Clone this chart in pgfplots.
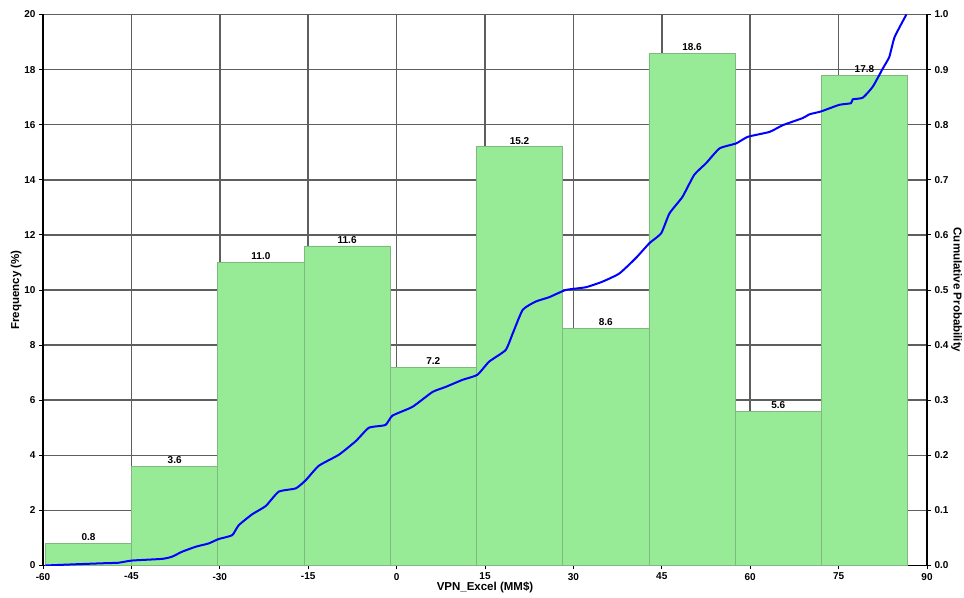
\documentclass[border=0pt]{standalone}
\usepackage{fontspec}
\setmainfont{Liberation Sans}
\usepackage{pgfplots}
\pgfplotsset{compat=1.18}
\definecolor{barfill}{HTML}{97EB97}
\definecolor{baredge}{HTML}{80B880}
\definecolor{gridc}{HTML}{5E5E5E}
\begin{document}
\begin{tikzpicture}
\pgfplotsset{
  every axis/.append style={
    scale only axis, width=884pt, height=551pt,
    xmin=-60, xmax=90,
    /pgf/number format/assume math mode=true,
    tick label style={font=\fontsize{10}{12}\selectfont\bfseries},
    label style={font=\fontsize{11.5}{13}\selectfont\bfseries},
    tick align=outside, tick style={black, line width=0.9pt},
    major tick length=4pt,
  }
}
\begin{axis}[
  axis y line*=left, axis x line*=bottom,
  axis line style={black, line width=1.2pt},
  ymin=0, ymax=20,
  ytick={0,2,...,20},
  xtick={-60,-45,...,90},
  grid=major,
  major grid style={gridc, line width=1.5pt},
  xlabel={VPN\_Excel (MM\$)},
  ylabel={Frequency (\%)},
  xlabel style={yshift=5pt},
  ylabel style={yshift=-4pt},
  ybar, bar width=14.63,
  nodes near coords,
  every node near coord/.append style={font=\fontsize{10}{12}\selectfont\bfseries, /pgf/number format/.cd, fixed, fixed zerofill, precision=1, /tikz/.cd, yshift=-1pt},
]
\addplot[fill=barfill, draw=baredge, line width=0.6pt] coordinates {
(-52.285,0.8) (-37.655,3.6) (-23.025,11.0) (-8.395,11.6) (6.235,7.2)
(20.865,15.2) (35.495,8.6) (50.125,18.6) (64.755,5.6) (79.385,17.8)
};
\end{axis}
\begin{axis}[
  axis y line*=right, axis x line=none,
  axis line style={black, line width=1.2pt},
  ymin=0, ymax=1,
  ytick={0,0.1,...,1.0},
  yticklabel style={/pgf/number format/.cd, fixed, fixed zerofill, precision=1},
  ylabel={Cumulative Probability},
  ylabel style={rotate=180, yshift=-4pt},
]
\addplot[blue, line width=2pt, smooth, tension=0.3] coordinates {
(-59.6,0.000) (-55.0,0.002) (-50.0,0.004) (-47.2,0.005) (-44.9,0.009)
(-39.8,0.012) (-38.1,0.016) (-36.4,0.025) (-34.1,0.034) (-31.9,0.040)
(-30.2,0.048) (-27.9,0.055) (-26.8,0.073) (-24.5,0.093) (-22.2,0.108)
(-20.0,0.134) (-17.1,0.140) (-15.4,0.155) (-13.2,0.181) (-9.8,0.201)
(-6.9,0.226) (-4.7,0.250) (-1.9,0.255) (-0.7,0.272) (2.7,0.288)
(6.1,0.315) (8.3,0.324) (11.2,0.337) (13.7,0.346) (15.7,0.370)
(18.5,0.391) (19.7,0.421) (21.4,0.464) (23.6,0.479) (25.9,0.487)
(28.7,0.500) (32.1,0.505) (34.9,0.515) (37.8,0.530) (40.6,0.558)
(42.9,0.585) (44.9,0.603) (46.3,0.639) (48.5,0.669) (50.5,0.709)
(52.5,0.730) (54.8,0.757) (57.6,0.766) (59.6,0.778) (63.3,0.787)
(65.5,0.799) (68.9,0.812) (70.1,0.819) (72.0,0.824) (75.1,0.836)
(77.1,0.839) (77.4,0.846) (79.1,0.849) (80.8,0.869) (82.5,0.902)
(83.6,0.923) (84.5,0.959) (86.5,1.000)
};
\end{axis}
\pgfresetboundingbox
\path ([shift={(-43pt,-32.5pt)}]current axis.south west) rectangle ([shift={(37pt,14.5pt)}]current axis.north east);
\end{tikzpicture}
\end{document}
